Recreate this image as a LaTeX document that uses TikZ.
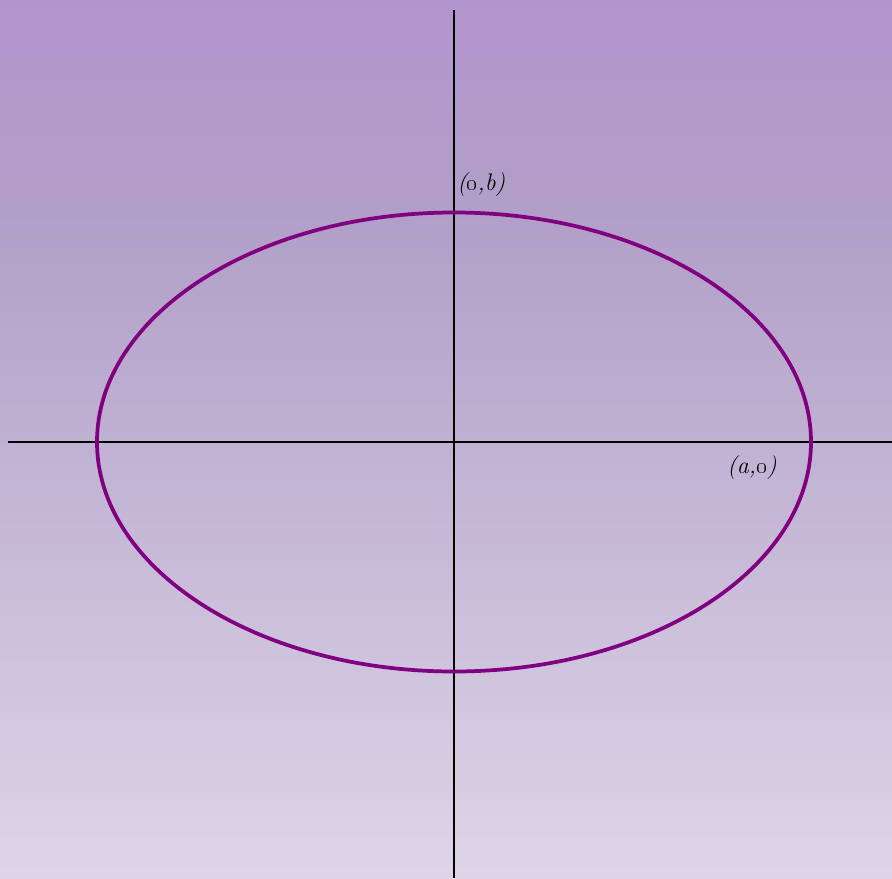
\documentclass[tikz,border=0pt]{standalone}
\definecolor{bgtop}{RGB}{179,149,206}
\definecolor{bgmid}{RGB}{178,160,200}
\definecolor{bgbot}{RGB}{221,213,231}
\definecolor{ellcol}{RGB}{128,0,128}
\begin{document}
\begin{tikzpicture}[x=0.75pt,y=-0.75pt,
  axis/.style={black,line width=1.6pt},
  curve/.style={ellcol,line width=2.8pt},
  lbl/.style={font=\fontsize{18}{22}\selectfont\itshape,inner sep=0pt}]
\useasboundingbox (0,0) rectangle (892,878);
\shade[top color=bgtop,bottom color=bgmid,shading angle=0] (0,0) rectangle (892,230);
\shade[top color=bgmid,bottom color=bgbot] (0,230) rectangle (892,878);
\coordinate (c) at (454,442);
\coordinate (xl) at (8,442);
\coordinate (xr) at (892,442);
\coordinate (yt) at (454,10);
\coordinate (yb) at (454,878);
\draw[axis] (xl) -- (xr);
\draw[axis] (yt) -- (yb);
\draw[curve] (c) ellipse [x radius=357, y radius=229.5];
\node[lbl,anchor=west] (b) at (457,185) {(\oldstylenums{0},b)};
\node[lbl,anchor=center] (a) at (752,468) {(a,\oldstylenums{0})};
\end{tikzpicture}
\end{document}
